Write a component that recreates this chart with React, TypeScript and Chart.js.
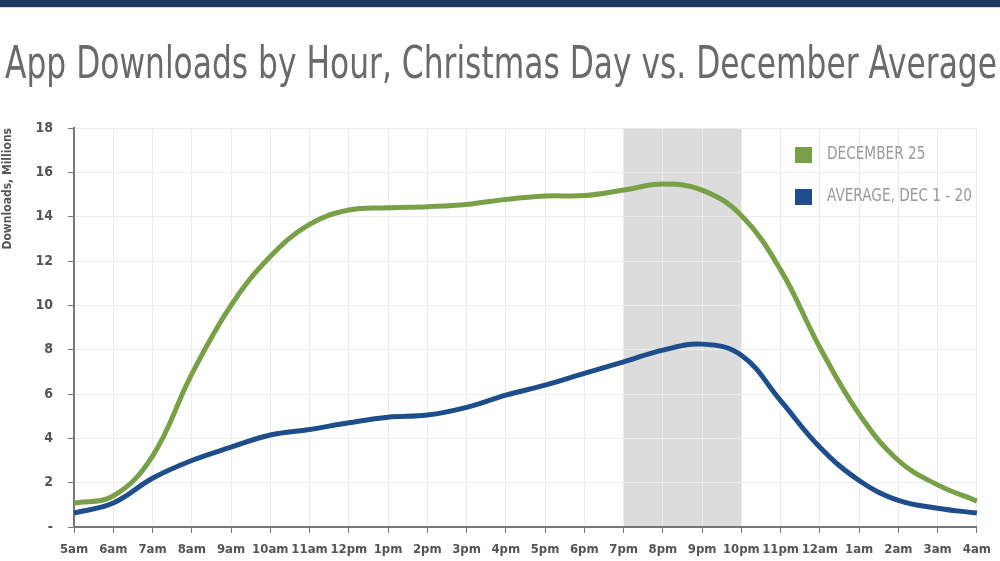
import React, { useEffect, useRef } from "react";
import { Chart, registerables } from "chart.js";

Chart.register(...registerables);

const TITLE = "App Downloads by Hour, Christmas Day vs. December Average";
const Y_TITLE = "Downloads, Millions";
const hours = ["5am", "6am", "7am", "8am", "9am", "10am", "11am", "12pm", "1pm", "2pm", "3pm", "4pm", "5pm", "6pm", "7pm", "8pm", "9pm", "10pm", "11pm", "12am", "1am", "2am", "3am", "4am"];
const dec25 = [1.08, 1.4, 3.2, 6.9, 10.0, 12.2, 13.65, 14.3, 14.4, 14.45, 14.55, 14.78, 14.93, 14.95, 15.2, 15.47, 15.2, 14.05, 11.6, 8.1, 5.1, 3.0, 1.9, 1.17];
const avgDec = [0.63, 1.08, 2.2, 3.0, 3.6, 4.15, 4.4, 4.7, 4.95, 5.05, 5.4, 5.95, 6.4, 6.93, 7.45, 7.98, 8.25, 7.75, 5.7, 3.6, 2.1, 1.2, 0.85, 0.63];
const seriesLabels = ["DECEMBER 25", "AVERAGE, DEC 1 - 20"];
const seriesColors = ["#78a046", "#1d4d8a"];
const bandStart = "7pm";
const bandEnd = "10pm";

const COND = "'Liberation Sans Narrow', 'DejaVu Sans Condensed', 'Liberation Sans', sans-serif";

const decorPlugin = {
  id: "decor",
  beforeDraw(chart: any) {
    const { ctx, chartArea, scales } = chart;
    ctx.save();
    ctx.fillStyle = "#ffffff";
    ctx.fillRect(0, 0, chart.width, chart.height);
    ctx.fillStyle = "#1c3a60";
    ctx.fillRect(0, 0, chart.width, 7);
    ctx.fillStyle = "#c9d6e6";
    ctx.fillRect(0, 7, chart.width, 1);
    ctx.fillStyle = "#6a6a6a";
    ctx.font = `44px ${COND}`;
    ctx.textBaseline = "alphabetic";
    const w = ctx.measureText(TITLE).width;
    ctx.translate(5, 78);
    ctx.scale(992 / w, 1);
    ctx.fillText(TITLE, 0, 0);
    ctx.restore();
    const x0 = scales.x.getPixelForValue(hours.indexOf(bandStart));
    const x1 = scales.x.getPixelForValue(hours.indexOf(bandEnd));
    ctx.save();
    ctx.fillStyle = "#dcdcdc";
    ctx.fillRect(x0, chartArea.top, x1 - x0, chartArea.bottom - chartArea.top);
    ctx.restore();
  },
  afterDatasetsDraw(chart: any) {
    const { ctx } = chart;
    ctx.save();
    ctx.font = `17px ${COND}`;
    ctx.textBaseline = "middle";
    const k = 145 / ctx.measureText(seriesLabels[1]).width;
    seriesLabels.forEach((lab, i) => {
      const y = 155 + i * 42;
      ctx.fillStyle = seriesColors[i];
      ctx.fillRect(795, y - 8, 17, 16);
      ctx.fillStyle = "#9a9a9a";
      ctx.save();
      ctx.translate(827, y);
      ctx.scale(k, 1);
      ctx.fillText(lab, 0, 0);
      ctx.restore();
    });
    ctx.restore();
  },
};

export default function App() {
  const ref = useRef<HTMLCanvasElement | null>(null);
  useEffect(() => {
    document.body.style.margin = "0";
    const chart = new Chart(ref.current as HTMLCanvasElement, {
      type: "line",
      data: {
        labels: hours,
        datasets: [
          { label: seriesLabels[0], data: dec25, borderColor: seriesColors[0], borderWidth: 5, pointRadius: 0, tension: 0.4, fill: false },
          { label: seriesLabels[1], data: avgDec, borderColor: seriesColors[1], borderWidth: 5, pointRadius: 0, tension: 0.4, fill: false },
        ],
      },
      options: {
        animation: false,
        responsive: false,
        layout: { padding: { top: 128, right: 18, left: 0, bottom: 0 } },
        plugins: { legend: { display: false }, tooltip: { enabled: false }, title: { display: false } },
        scales: {
          x: {
            offset: false,
            grid: { color: "#ececec", lineWidth: 1, tickLength: 6, tickColor: "#777", drawTicks: true },
            border: { color: "#777", width: 2 },
            ticks: { color: "#555", font: { family: COND, size: 13, weight: "bold" }, padding: 9, maxRotation: 0, autoSkip: false },
            afterFit: (s: any) => { s.height = 34; },
          },
          y: {
            min: 0,
            max: 18,
            grid: { color: "#ececec", lineWidth: 1, tickLength: 6, tickColor: "#777" },
            border: { color: "#777", width: 2 },
            ticks: {
              stepSize: 2,
              color: "#555",
              font: { family: COND, size: 14, weight: "bold" },
              padding: 15,
              callback: (v: any) => (v === 0 ? "-" : String(v)),
            },
            title: { display: true, text: Y_TITLE, align: "end", color: "#555", font: { family: COND, size: 12, weight: "bold" }, padding: { top: 1, bottom: 0 } },
            afterFit: (s: any) => { s.width = 74; },
          },
        },
      },
      plugins: [decorPlugin],
    } as any);
    return () => chart.destroy();
  }, []);
  return (
    <div style={{ position: "absolute", left: 0, top: 0, width: 1000, height: 561 }}>
      <canvas ref={ref} width={1000} height={561} style={{ display: "block" }} />
    </div>
  );
}
